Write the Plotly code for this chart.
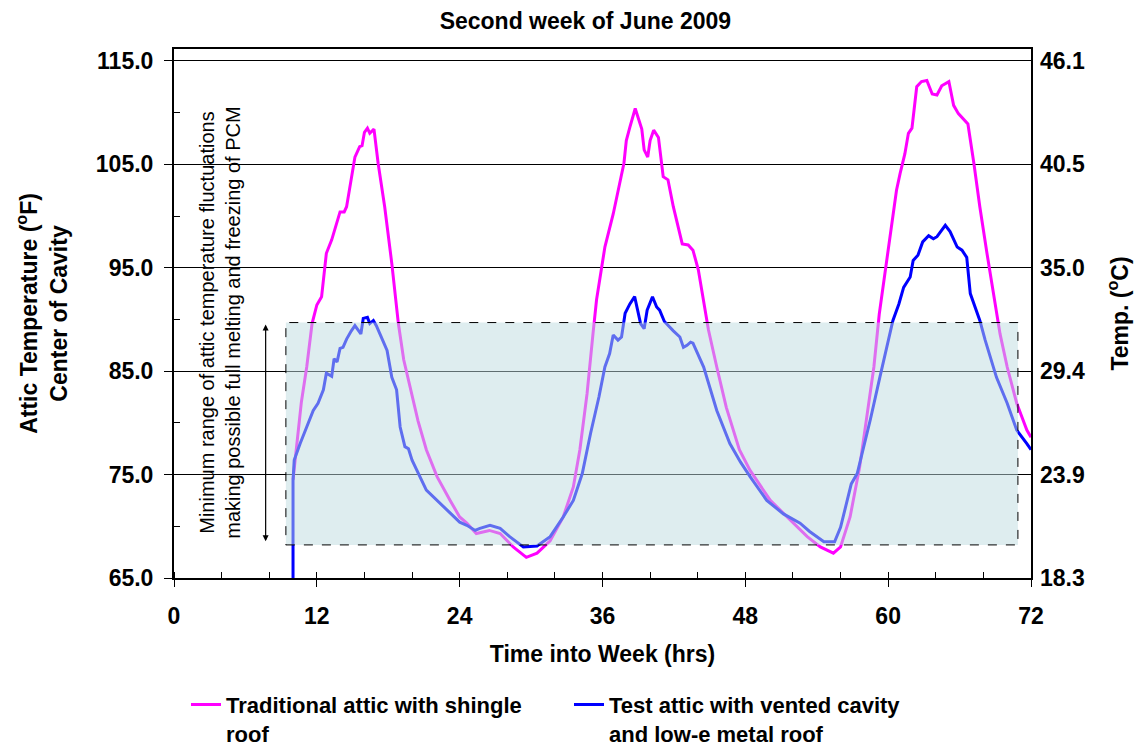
import plotly.graph_objects as go

# ---------------- data ----------------
trad_hrs = [10.0, 10.3, 10.7, 11.15, 11.6, 12.0, 12.4, 12.8, 13.25, 13.95, 14.3, 14.5, 15.2, 15.6, 15.8,
            16.0, 16.25, 16.45, 16.8, 17.15, 17.7, 18.3, 18.6, 18.85, 19.3, 19.8, 20.5, 21.2, 22.1, 23.2,
            24.0, 24.6, 25.4, 26.5, 27.4, 28.5, 29.6, 30.5, 31.6, 32.7, 33.55, 34.1, 34.7, 35.2, 35.5,
            36.2, 36.9, 37.8, 38.0, 38.3, 38.75, 39.3, 39.5, 39.8, 40.0, 40.3, 40.7, 41.1, 41.5, 41.95,
            42.7, 43.2, 43.6, 44.05, 44.5, 44.9, 45.6, 46.4, 47.5, 48.4, 50.1, 51.8, 53.2, 54.3, 55.4,
            56.0, 56.8, 57.6, 58.2, 58.8, 59.25, 59.9, 60.7, 61.0, 61.4, 61.7, 62.0, 62.4, 62.8, 63.25,
            63.7, 64.1, 64.5, 65.1, 65.5, 65.9, 66.3, 66.7, 67.2, 67.7, 68.3, 68.85, 69.4, 70.0, 70.8,
            71.65, 72.0]
trad_temp = [74.5, 78.0, 82.0, 85.4, 89.6, 91.4, 92.2, 96.4, 97.7, 100.4, 100.4, 100.9, 105.7, 106.7, 106.8,
             108.1, 108.5, 108.0, 108.4, 105.1, 100.9, 95.4, 92.5, 89.6, 86.1, 83.5, 80.2, 77.4, 74.8, 72.5,
             70.9, 70.3, 69.3, 69.6, 69.3, 68.0, 67.0, 67.4, 68.6, 70.9, 73.8, 77.4, 82.8, 88.6, 91.9,
             97.0, 100.2, 105.1, 107.3, 108.6, 110.4, 108.4, 106.4, 105.7, 107.3, 108.3, 107.6, 103.8, 103.5, 100.9,
             97.3, 97.2, 96.7, 94.8, 91.5, 89.0, 85.4, 81.5, 77.4, 75.4, 72.5, 70.6, 69.0, 68.0, 67.4,
             68.0, 70.9, 75.7, 80.6, 85.4, 90.5, 96.0, 102.5, 104.1, 106.0, 108.0, 108.5, 112.5, 113.0, 113.1,
             111.8, 111.7, 112.6, 113.0, 110.7, 109.9, 109.4, 108.9, 105.1, 100.9, 96.4, 92.5, 88.6, 85.4, 81.9,
             79.3, 78.6]

test_hrs = [10.0, 10.0, 10.1, 10.6, 11.7, 12.1, 12.55, 12.8, 13.25, 13.45, 13.7, 13.95, 14.2, 14.5, 14.9,
            15.2, 15.7, 15.9, 16.25, 16.45, 16.75, 17.0, 17.3, 17.9, 18.3, 18.7, 19.0, 19.4, 19.7, 20.0,
            21.2, 22.1, 23.2, 24.0, 24.6, 25.3, 25.7, 26.55, 27.4, 28.2, 29.35, 30.5, 31.6, 32.7, 33.55,
            34.3, 35.0, 35.7, 36.2, 36.6, 36.9, 37.3, 37.6, 37.9, 38.3, 38.7, 39.2, 39.5, 39.75, 40.2,
            40.55, 40.8, 41.2, 41.5, 41.95, 42.5, 42.8, 43.1, 43.4, 43.6, 44.5, 45.6, 46.7, 47.6, 48.4,
            49.8, 51.2, 52.6, 53.4, 54.6, 55.5, 56.0, 56.5, 56.9, 57.4, 57.9, 58.5, 59.3, 60.0, 60.4,
            60.9, 61.3, 61.85, 62.1, 62.5, 62.9, 63.4, 63.8, 64.1, 64.8, 65.2, 65.8, 66.2, 66.6, 66.9,
            67.2, 67.7, 68.15, 69.1, 70.0, 70.8, 71.65, 72.0]
test_temp = [65.0, 74.4, 76.4, 78.0, 81.2, 81.9, 83.2, 84.8, 84.5, 86.2, 85.9, 87.2, 87.3, 88.1, 88.9,
             89.4, 88.6, 90.1, 90.2, 89.6, 89.9, 89.4, 88.6, 87.0, 84.4, 83.2, 79.6, 77.7, 77.5, 76.4,
             73.5, 72.5, 71.2, 70.4, 70.1, 69.6, 69.8, 70.1, 69.8, 69.0, 68.0, 68.1, 69.0, 70.9, 72.5,
             75.1, 79.0, 82.5, 85.4, 86.7, 88.5, 88.0, 88.3, 90.6, 91.5, 92.2, 89.6, 89.1, 90.9, 92.2,
             91.2, 90.9, 89.8, 89.4, 88.9, 88.3, 87.3, 87.5, 87.8, 87.7, 85.4, 81.2, 78.0, 76.2, 74.8,
             72.5, 71.2, 70.3, 69.5, 68.5, 68.5, 69.9, 72.2, 74.1, 75.1, 77.4, 80.3, 84.4, 88.0, 89.9,
             91.5, 93.1, 94.1, 95.7, 96.2, 97.5, 98.1, 97.8, 98.0, 99.1, 98.5, 97.0, 96.7, 96.0, 92.5,
             91.5, 89.9, 88.0, 84.4, 81.9, 79.3, 78.0, 77.4]

f_ticks = [65, 75, 85, 95, 105, 115]
c_tick_labels = ["18.3", "23.9", "29.4", "35.0", "40.5", "46.1"]
x_ticks = [0, 12, 24, 36, 48, 60, 72]

pcm_band_f = [68.2, 89.7]      # minimum range of attic temperature fluctuations
pcm_window_hrs = [9.4, 70.9]
arrow_hrs = 7.7
note_pos = [3.8, 89.7]

series_names = ["Traditional attic with shingle<br>roof",
                "Test attic with vented cavity<br>and low-e metal roof"]

# ---------------- figure ----------------
FONT = "Liberation Sans, Arial, sans-serif"
bold = dict(family=FONT, size=23, color="black", weight="bold")
legend_font = dict(family=FONT, size=22, color="black", weight="bold")

fig = go.Figure()
fig.add_trace(go.Scatter(x=trad_hrs, y=trad_temp, mode="lines", name=series_names[0],
                         line=dict(color="#FF00FF", width=3)))
fig.add_trace(go.Scatter(x=test_hrs, y=test_temp, mode="lines", name=series_names[1],
                         line=dict(color="#0000FF", width=3)))
# invisible trace to carry the Celsius axis
fig.add_trace(go.Scatter(x=[0], y=[65], yaxis="y2", mode="markers",
                         marker=dict(opacity=0), showlegend=False, hoverinfo="skip"))

fig.add_shape(type="rect", xref="x", yref="y",
              x0=pcm_window_hrs[0], x1=pcm_window_hrs[1], y0=pcm_band_f[0], y1=pcm_band_f[1],
              fillcolor="rgb(190,220,224)", opacity=0.5, line=dict(width=0), layer="above")
fig.add_shape(type="rect", xref="x", yref="y",
              x0=pcm_window_hrs[0], x1=pcm_window_hrs[1], y0=pcm_band_f[0], y1=pcm_band_f[1],
              fillcolor="rgba(0,0,0,0)", line=dict(color="black", width=1, dash="dash"), layer="above")

fig.add_annotation(x=arrow_hrs, y=pcm_band_f[1] - 0.2, ax=arrow_hrs, ay=pcm_band_f[0] + 0.2,
                   xref="x", yref="y", axref="x", ayref="y", text="", showarrow=True,
                   arrowhead=2, arrowside="end+start", arrowsize=1, arrowwidth=1.2, arrowcolor="black")
fig.add_annotation(x=note_pos[0], y=note_pos[1], xref="x", yref="y", textangle=-90, showarrow=False,
                   text="Minimum range of attic temperature fluctuations<br>making possible full melting and freezing of PCM",
                   font=dict(family=FONT, size=20, color="black"))

fig.update_layout(
    width=1137, height=746,
    margin=dict(l=174, r=106, t=49, b=168, autoexpand=False),
    paper_bgcolor="white", plot_bgcolor="white",
    title=dict(text="Second week of June 2009", x=0.48, xref="paper", xanchor="center",
               y=1 - 21 / 746, yref="container", yanchor="middle",
               font=dict(family=FONT, size=23, color="black", weight="bold")),
    xaxis=dict(range=[0, 72], tickvals=x_ticks, ticks="outside", ticklen=7, tickwidth=1,
               tickcolor="black", showline=True, linecolor="black", linewidth=2, mirror=True,
               showgrid=False, zeroline=False, tickfont=bold, ticklabelstandoff=9,
               minor=dict(dtick=4, tick0=0, ticks="inside", ticklen=6, tickcolor="black", showgrid=False),
               title=dict(text="Time into Week (hrs)", font=bold, standoff=18)),
    yaxis=dict(range=[65, 116.15], tickvals=f_ticks, tickformat=".1f", ticks="outside", ticklen=8,
               tickcolor="black", showline=True, linecolor="black", linewidth=2, mirror=True,
               showgrid=True, gridcolor="black", gridwidth=1, zeroline=False, tickfont=bold,
               ticklabelstandoff=6,
               minor=dict(dtick=5, tick0=65, ticks="inside", ticklen=6, tickcolor="black", showgrid=False),
               title=dict(text="Attic Temperature (<sup>o</sup>F)<br>Center of Cavity", font=bold, standoff=22)),
    yaxis2=dict(range=[65, 116.15], overlaying="y", side="right", tickvals=f_ticks, ticktext=c_tick_labels,
                ticks="", showgrid=False, zeroline=False, showline=False, tickfont=bold,
                ticklabelstandoff=8,
                title=dict(text="Temp. (<sup>o</sup>C)", font=bold, standoff=27)),
    showlegend=True,
    legend=dict(orientation="h", x=0.014, xanchor="left", y=-0.20, yanchor="top",
                valign="top", font=legend_font, entrywidth=338, bgcolor="rgba(0,0,0,0)"),
)

fig.write_html("out.html")
